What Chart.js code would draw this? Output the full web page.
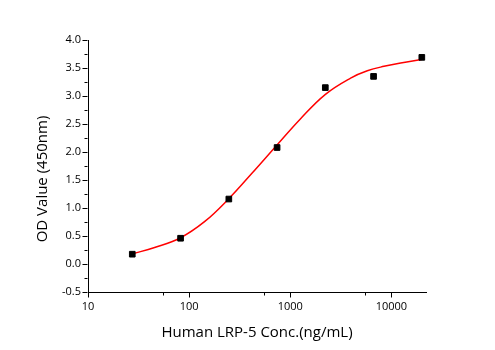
<!DOCTYPE html>
<html>
<head>
<meta charset="utf-8">
<script src="https://cdn.jsdelivr.net/npm/chart.js@4/dist/chart.umd.min.js"></script>
<style>
  html, body { margin: 0; padding: 0; background: #fff; }
  #wrap { width: 495px; height: 350px; }
</style>
</head>
<body>
<div id="wrap"><canvas id="c" width="495" height="350"></canvas></div>
<script>
// Measured ELISA points: Human LRP-5 concentration (ng/mL) vs OD at 450 nm
const concentrations = [27.4, 82.3, 247, 741, 2222, 6667, 20000];
const odValues = [0.175, 0.46, 1.16, 2.08, 3.15, 3.35, 3.69];

// Fitted dose-response curve, sampled along the concentration range
const fitConc = [27.4, 45.6, 80.7, 143, 245, 418, 711, 1259, 2228, 3954, 5781, 8453, 12359, 20000];
const fitOD = [0.18, 0.295, 0.46, 0.76, 1.16, 1.62, 2.09, 2.59, 3.03, 3.32, 3.45, 3.53, 3.59, 3.65];

// Axis tick positions
const xMajorTicks = [10, 100, 1000, 10000];
const xMinorTicks = [55, 550, 5500];
const yMajorTicks = [-0.5, 0.0, 0.5, 1.0, 1.5, 2.0, 2.5, 3.0, 3.5, 4.0];
const yMinorTicks = [-0.25, 0.25, 0.75, 1.25, 1.75, 2.25, 2.75, 3.25, 3.75];

const xTitle = 'Human LRP-5 Conc.(ng/mL)';
const yTitle = 'OD Value (450nm)';

const FONT = '"Open Sans", "Liberation Sans", sans-serif';

// Outward tick marks (long for major, short for minor) and the axis titles
const axisDecor = {
  id: 'axisDecor',
  afterDraw(chart) {
    const ctx = chart.ctx;
    const xs = chart.scales.x, ys = chart.scales.y;
    const area = chart.chartArea;
    ctx.save();
    ctx.strokeStyle = '#000';
    ctx.lineWidth = 1;
    ctx.beginPath();
    const bottom = Math.round(area.bottom) + 0.5;
    const left = Math.round(area.left) - 0.5;
    xMajorTicks.forEach(v => {
      const px = Math.round(xs.getPixelForValue(v)) + 0.5;
      ctx.moveTo(px, bottom); ctx.lineTo(px, bottom + 5);
    });
    xMinorTicks.forEach(v => {
      const px = Math.round(xs.getPixelForValue(v)) + 0.5;
      ctx.moveTo(px, bottom); ctx.lineTo(px, bottom + 3);
    });
    yMajorTicks.forEach(v => {
      const py = Math.round(ys.getPixelForValue(v)) + 0.5;
      ctx.moveTo(left, py); ctx.lineTo(left - 5, py);
    });
    yMinorTicks.forEach(v => {
      const py = Math.round(ys.getPixelForValue(v)) + 0.5;
      ctx.moveTo(left, py); ctx.lineTo(left - 3, py);
    });
    ctx.stroke();

    ctx.fillStyle = '#000';
    ctx.font = '15px ' + FONT;
    ctx.textAlign = 'center';
    ctx.textBaseline = 'middle';
    ctx.fillText(xTitle, 257, 333);
    ctx.translate(43, 179);
    ctx.rotate(-Math.PI / 2);
    ctx.fillText(yTitle, 0, 0);
    ctx.restore();
  }
};

new Chart(document.getElementById('c'), {
  type: 'scatter',
  data: {
    datasets: [
      {
        data: concentrations.map((c, i) => ({ x: c, y: odValues[i] })),
        pointStyle: 'rect',
        pointRadius: 4,
        pointBackgroundColor: '#000',
        pointBorderColor: '#000',
        pointBorderWidth: 1,
        showLine: false,
        order: 0
      },
      {
        data: fitConc.map((c, i) => ({ x: c, y: fitOD[i] })),
        showLine: true,
        borderColor: '#ff0000',
        borderWidth: 1.5,
        pointRadius: 0,
        tension: 0.4,
        fill: false,
        order: 1
      }
    ]
  },
  options: {
    responsive: false,
    animation: false,
    events: [],
    layout: { padding: { top: 40, right: 69, left: 0, bottom: 0 } },
    plugins: { legend: { display: false }, tooltip: { enabled: false } },
    scales: {
      x: {
        type: 'logarithmic',
        min: 10,
        max: 22000,
        afterBuildTicks(scale) { scale.ticks = xMajorTicks.map(v => ({ value: v })); },
        afterFit(scale) { scale.height = 58; },
        grid: { display: true, drawOnChartArea: false, drawTicks: false, color: 'rgba(0,0,0,0)' },
        border: { display: true, color: '#000', width: 1 },
        ticks: {
          autoSkip: false,
          maxRotation: 0,
          padding: 8,
          color: '#000',
          font: { family: FONT, size: 11 },
          callback: v => String(v)
        }
      },
      y: {
        min: -0.5,
        max: 4.0,
        afterBuildTicks(scale) { scale.ticks = yMajorTicks.map(v => ({ value: v })); },
        afterFit(scale) { scale.width = 88; },
        grid: { display: true, drawOnChartArea: false, drawTicks: false, color: 'rgba(0,0,0,0)' },
        border: { display: true, color: '#000', width: 1 },
        ticks: {
          autoSkip: false,
          padding: 7,
          color: '#000',
          font: { family: FONT, size: 11 },
          callback: v => Number(v).toFixed(1)
        }
      }
    }
  },
  plugins: [axisDecor]
});
</script>
</body>
</html>
